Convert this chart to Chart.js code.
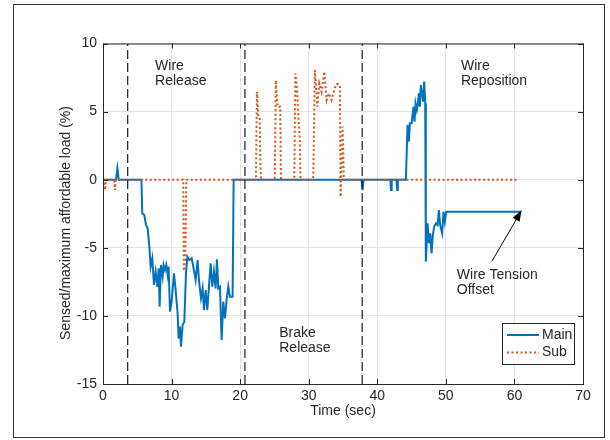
<!DOCTYPE html>
<html>
<head>
<meta charset="utf-8">
<script src="https://cdn.jsdelivr.net/npm/chart.js@4.4.1/dist/chart.umd.min.js"></script>
<style>
  html, body { margin: 0; padding: 0; background: #fff; }
</style>
</head>
<body>
<canvas id="myChart" width="610" height="440"></canvas>
<script>
// tick labels
const xTicks = [0, 10, 20, 30, 40, 50, 60, 70];
const yTicks = [-15, -10, -5, 0, 5, 10];

// main sensor (sec, %)
const mainTime = [0, 1.9, 2.1, 2.3, 5.6, 5.73, 6.02, 6.27, 6.51, 6.76, 6.95, 7.19, 7.43, 7.68, 7.92,
  8.12, 8.26, 8.45, 8.70, 8.84, 9.04, 9.23, 9.43, 9.57, 9.77, 10.01, 10.35, 10.64, 10.88, 11.03,
  11.22, 11.37, 11.61, 11.86, 12.10, 12.30, 12.59, 12.93, 13.17, 13.51, 13.80, 13.99, 14.29, 14.53,
  14.72, 14.97, 15.21, 15.45, 15.70, 15.94, 16.18, 16.42, 16.62, 16.81, 17.06, 17.30, 17.54, 17.78,
  18.03, 18.27, 18.51, 18.90, 19.05, 37.7, 37.85, 38.0, 41.9, 42.0, 42.1, 42.8, 42.9, 43.0, 44.17,
  44.41, 44.61, 44.75, 45.0, 45.14, 45.29, 45.43, 45.58, 45.77, 45.92, 46.06, 46.21, 46.35, 46.55,
  46.69, 46.84, 46.99, 47.08, 47.33, 47.53, 47.72, 47.92, 48.1, 48.3, 48.55, 48.8, 48.98, 49.17,
  49.46, 49.66, 49.85, 50.05, 61.0];
const mainLoad = [0, 0, 0.84, 0, 0, -2.47, -2.59, -3.32, -3.57, -4.92, -6.39, -5.77, -7.73, -6.75, -7.85,
  -6.51, -9.32, -6.26, -7.12, -6.26, -6.63, -6.26, -7.0, -6.39, -9.69, -8.95, -6.87, -8.34, -9.81, -11.65,
  -10.79, -12.26, -10.67, -10.42, -6.87, -5.65, -5.90, -5.77, -6.39, -7.36, -5.90, -7.36, -8.71, -7.98,
  -9.57, -8.10, -9.57, -7.85, -6.14, -7.85, -6.75, -7.98, -5.85, -7.98, -7.85, -11.77, -8.95, -10.18,
  -8.83, -7.85, -8.59, -8.59, 0, 0, -0.76, 0, 0, -0.76, 0, 0, -0.76, 0, 0,
  4.02, 2.80, 4.14, 4.14, 4.75, 5.36, 4.26, 5.61, 5.12, 5.61, 6.34, 5.36, 6.95, 6.22,
  5.73, 7.2, 5.61, -6.02, -3.2, -4.67, -3.94, -5.41, -4.06, -3.45, -3.2, -3.33, -2.23, -3.33,
  -3.94, -2.35, -3.08, -2.35, -2.35];

// sub sensor (sec, %)
const subTime = [0, 0.2, 0.3, 0.4, 1.65, 1.75, 1.85, 11.7, 11.8, 11.95, 12.05, 12.15, 22.3, 22.45,
  22.65, 22.85, 22.95, 23.05, 25.05, 25.2, 25.45, 25.85, 25.95, 27.9, 28.05, 28.3, 28.5, 28.7, 28.8,
  30.66, 30.90, 31.25, 31.54, 31.88, 32.27, 32.61, 32.94, 33.33, 33.67, 33.96, 34.31, 34.55, 34.65,
  34.94, 35.13, 60.6];
const subLoad = [0, 0, -0.76, 0, 0, -0.76, 0, 0, -6.7, -6.0, -4.4, 0, 0, 6.46,
  4.7, 4.6, 1.2, 0, 0, 7.3, 5.36, 5.36, 0, 0, 7.8, 6.6, 4.63, 3.0, 0,
  0, 8.05, 5.36, 7.07, 6.46, 7.93, 5.85, 6.34, 5.85, 6.46, 7.0, 7.03, 6.9, -1.26,
  3.9, 0, 0];

// phase boundaries (sec)
const phaseTimes = [3.6, 20.7, 37.8];

const FONT = '"Liberation Sans", Arial, Helvetica, sans-serif';
const INK = '#262626';
const BLUE = '#0072BD';
const ORANGE = '#D95319';

const notes = [
  { lines: ['Wire', 'Release'], t: 7.6, v: 8.35 },
  { lines: ['Brake', 'Release'], t: 25.7, v: -11.25 },
  { lines: ['Wire', 'Reposition'], t: 52.2, v: 8.35 },
  { lines: ['Wire Tension', 'Offset'], t: 51.6, v: -7.0 }
];
const arrow = { from: [56.7, -6.0], to: [61.05, -2.25] };

const pts = (ts, vs) => ts.map((t, i) => ({ x: t, y: vs[i] }));

const phaseSets = phaseTimes.map(t => ({
  label: '',
  data: [{ x: t, y: -15 }, { x: t, y: 10 }],
  borderColor: '#1a1a1a',
  borderWidth: 1.2,
  borderDash: [9, 4],
  pointRadius: 0,
  order: 0
}));

const decor = {
  id: 'decor',
  beforeDraw(chart) {
    const ctx = chart.ctx;
    ctx.save();
    ctx.fillStyle = '#fff';
    ctx.fillRect(0, 0, chart.width, chart.height);
    ctx.restore();
  },
  afterDraw(chart) {
    const { ctx, chartArea: a, scales: { x, y } } = chart;
    ctx.save();

    // figure frame
    ctx.strokeStyle = '#333';
    ctx.lineWidth = 1;
    ctx.strokeRect(13.5, 4.5, 591, 433);

    // axes box with inward ticks
    ctx.strokeStyle = INK;
    ctx.strokeRect(a.left + 0.5, a.top + 0.5, a.right - a.left, a.bottom - a.top);
    ctx.beginPath();
    xTicks.forEach(v => {
      const px = Math.round(x.getPixelForValue(v)) + 0.5;
      ctx.moveTo(px, a.bottom); ctx.lineTo(px, a.bottom - 5);
      ctx.moveTo(px, a.top); ctx.lineTo(px, a.top + 5);
    });
    yTicks.forEach(v => {
      const py = Math.round(y.getPixelForValue(v)) + 0.5;
      ctx.moveTo(a.left, py); ctx.lineTo(a.left + 5, py);
      ctx.moveTo(a.right, py); ctx.lineTo(a.right - 5, py);
    });
    ctx.stroke();

    // axis titles
    ctx.fillStyle = INK;
    ctx.font = '14px ' + FONT;
    ctx.textAlign = 'center';
    ctx.textBaseline = 'middle';
    ctx.fillText('Time (sec)', (a.left + a.right) / 2, 411.5);
    ctx.save();
    ctx.translate(66.5, 223);
    ctx.rotate(-Math.PI / 2);
    ctx.fillText('Sensed/maximum affordable load (%)', 0, 0);
    ctx.restore();

    // phase notes
    ctx.textAlign = 'left';
    notes.forEach(n => {
      const px = x.getPixelForValue(n.t);
      const py = y.getPixelForValue(n.v);
      n.lines.forEach((s, i) => ctx.fillText(s, px, py + i * 15));
    });

    // arrow to offset level
    const x0 = x.getPixelForValue(arrow.from[0]), y0 = y.getPixelForValue(arrow.from[1]);
    const x1 = x.getPixelForValue(arrow.to[0]), y1 = y.getPixelForValue(arrow.to[1]);
    const ang = Math.atan2(y1 - y0, x1 - x0);
    ctx.strokeStyle = '#000';
    ctx.fillStyle = '#000';
    ctx.beginPath();
    ctx.moveTo(x0, y0); ctx.lineTo(x1 - 8 * Math.cos(ang), y1 - 8 * Math.sin(ang));
    ctx.stroke();
    ctx.beginPath();
    ctx.moveTo(x1, y1);
    ctx.lineTo(x1 - 11 * Math.cos(ang) + 4 * Math.sin(ang), y1 - 11 * Math.sin(ang) - 4 * Math.cos(ang));
    ctx.lineTo(x1 - 11 * Math.cos(ang) - 4 * Math.sin(ang), y1 - 11 * Math.sin(ang) + 4 * Math.cos(ang));
    ctx.closePath();
    ctx.fill();

    // legend
    const lw = 72, lh = 41;
    const lx = a.right - 9 - lw, ly = a.bottom - 20 - lh;
    ctx.fillStyle = '#fff';
    ctx.fillRect(lx, ly, lw, lh);
    ctx.strokeStyle = INK;
    ctx.strokeRect(Math.round(lx) + 0.5, Math.round(ly) + 0.5, lw, lh);
    chart.data.datasets.slice(0, 2).forEach((ds, i) => {
      const ry = ly + 12 + i * 17.5;
      ctx.strokeStyle = ds.borderColor;
      ctx.lineWidth = 2;
      ctx.setLineDash(ds.borderDash || []);
      ctx.beginPath();
      ctx.moveTo(lx + 5, ry); ctx.lineTo(lx + 37, ry);
      ctx.stroke();
      ctx.setLineDash([]);
      ctx.fillStyle = INK;
      ctx.fillText(ds.label, lx + 40, ry);
    });

    ctx.restore();
  }
};

const config = {
  type: 'line',
  data: {
    datasets: [
      {
        label: 'Main',
        data: pts(mainTime, mainLoad),
        borderColor: BLUE,
        borderWidth: 2,
        pointRadius: 0,
        tension: 0,
        order: 2
      },
      {
        label: 'Sub',
        data: pts(subTime, subLoad),
        borderColor: ORANGE,
        borderWidth: 2,
        borderDash: [2, 2.5],
        pointRadius: 0,
        tension: 0,
        order: 1
      },
      ...phaseSets
    ]
  },
  options: {
    responsive: false,
    animation: false,
    devicePixelRatio: 1,
    layout: { padding: { left: 0, top: 43.5, right: 27, bottom: 0 } },
    plugins: { legend: { display: false }, tooltip: { enabled: false } },
    scales: {
      x: {
        type: 'linear',
        min: 0, max: 70,
        afterFit: s => { s.height = 56; },
        afterBuildTicks: s => { s.ticks = xTicks.map(v => ({ value: v })); },
        ticks: { color: INK, font: { family: FONT, size: 14 }, padding: 4, maxRotation: 0 },
        grid: { color: '#e3e3e3', drawTicks: false },
        border: { display: false }
      },
      y: {
        min: -15, max: 10,
        afterFit: s => { s.width = 103; },
        afterBuildTicks: s => { s.ticks = yTicks.map(v => ({ value: v })); },
        ticks: { color: INK, font: { family: FONT, size: 14 }, padding: 6 },
        grid: { color: '#e3e3e3', drawTicks: false },
        border: { display: false }
      }
    }
  },
  plugins: [decor]
};

const myChart = new Chart(document.getElementById('myChart'), config);
</script>
</body>
</html>
